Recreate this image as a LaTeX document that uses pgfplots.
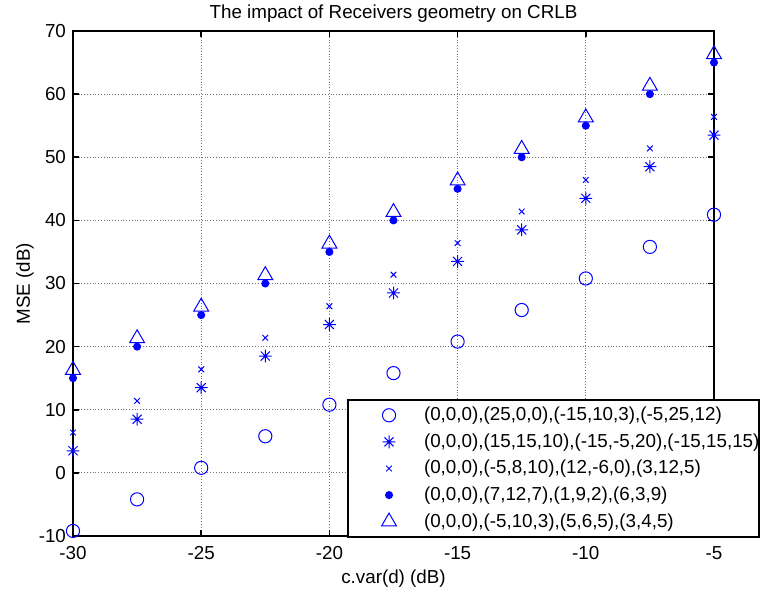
\documentclass[border=0pt]{standalone}
\usepackage{fontspec}
\setmainfont{Liberation Sans}
\usepackage{pgfplots}
\pgfplotsset{compat=1.18}
\pgfdeclareplotmark{mstar}{%
  \pgfpathmoveto{\pgfqpoint{-\pgfplotmarksize}{0pt}}%
  \pgfpathlineto{\pgfqpoint{\pgfplotmarksize}{0pt}}%
  \pgfpathmoveto{\pgfqpoint{0pt}{-\pgfplotmarksize}}%
  \pgfpathlineto{\pgfqpoint{0pt}{\pgfplotmarksize}}%
  \pgfpathmoveto{\pgfqpoint{-.707\pgfplotmarksize}{-.707\pgfplotmarksize}}%
  \pgfpathlineto{\pgfqpoint{.707\pgfplotmarksize}{.707\pgfplotmarksize}}%
  \pgfpathmoveto{\pgfqpoint{-.707\pgfplotmarksize}{.707\pgfplotmarksize}}%
  \pgfpathlineto{\pgfqpoint{.707\pgfplotmarksize}{-.707\pgfplotmarksize}}%
  \pgfusepathqstroke}
\definecolor{mblue}{rgb}{0,0,1}
\pgfplotsset{
  mymarks/.style={only marks, color=mblue, line width=0.5pt, mark options={solid},
    legend image code/.code={\path[draw=none,fill=none] (-20.5pt,-6.65pt) rectangle (17.5pt,6.65pt);
      \draw[##1] plot coordinates {(0pt,0pt)};}},
}
\begin{document}
\fontsize{9.4}{11}\selectfont
\begin{tikzpicture}
\begin{axis}[
  scale only axis, width=320.5pt, height=252.5pt,
  xmin=-30, xmax=-5, ymin=-10, ymax=70,
  xtick={-30,-25,...,-5}, ytick={-10,0,...,70},
  axis line style={line width=1pt},
  tick align=inside, major tick length=3pt,
  tick style={line width=0.8pt, black},
  grid=major, grid style={densely dotted, black!55, line width=0.5pt},
  /pgf/number format/assume math mode=true,
  tick label style={font=\fontsize{9.4}{11}\selectfont},
  xticklabel style={yshift=-2pt},
  yticklabel style={xshift=-0.2pt},
  title={The impact of Receivers geometry on CRLB},
  title style={at={(axis description cs:0.5,1.0253)}, anchor=base, yshift=-6pt, inner sep=0pt},
  xlabel={c.var(d) (dB)},
  xlabel style={at={(axis description cs:0.5,-0.0931)}, anchor=base, inner sep=0pt},
  ylabel={MSE (dB)},
  ylabel style={at={(axis description cs:-0.0671,0.5)}, anchor=base, inner sep=0pt},
  legend style={at={(axis description cs:0.4275,0.2713)}, anchor=north west,
    inner xsep=0pt, inner ysep=1pt, draw=black, line width=1pt, fill=white,
    nodes={draw=none, inner sep=0pt, font=\fontsize{9.4}{11}\selectfont}, cells={anchor=west}, row sep=0pt},
]
\addplot[mymarks, mark=o, mark size=3.3pt] coordinates {
(-30,-9.2) (-27.5,-4.2) (-25,0.8) (-22.5,5.8) (-20,10.8) (-17.5,15.8)
(-15,20.8) (-12.5,25.8) (-10,30.8) (-7.5,35.8) (-5,40.9)};
\addlegendentry{(0,0,0),(25,0,0),(-15,10,3),(-5,25,12)}
\addplot[mymarks, mark=mstar, mark size=3.2pt] coordinates {
(-30,3.5) (-27.5,8.5) (-25,13.5) (-22.5,18.5) (-20,23.5) (-17.5,28.5)
(-15,33.5) (-12.5,38.5) (-10,43.5) (-7.5,48.5) (-5,53.5)};
\addlegendentry{(0,0,0),(15,15,10),(-15,-5,20),(-15,15,15)}
\addplot[mymarks, mark=x, mark size=2pt] coordinates {
(-30,6.4) (-27.5,11.4) (-25,16.4) (-22.5,21.4) (-20,26.4) (-17.5,31.4)
(-15,36.4) (-12.5,41.4) (-10,46.4) (-7.5,51.4) (-5,56.4)};
\addlegendentry{(0,0,0),(-5,8,10),(12,-6,0),(3,12,5)}
\addplot[mymarks, mark=*, mark size=1.75pt] coordinates {
(-30,15) (-27.5,20) (-25,25) (-22.5,30) (-20,35) (-17.5,40)
(-15,45) (-12.5,50) (-10,55) (-7.5,60) (-5,65)};
\addlegendentry{(0,0,0),(7,12,7),(1,9,2),(6,3,9)}
\addplot[mymarks, mark=triangle, mark size=4.3pt] coordinates {
(-30,16.3) (-27.5,21.3) (-25,26.3) (-22.5,31.3) (-20,36.3) (-17.5,41.3)
(-15,46.3) (-12.5,51.3) (-10,56.3) (-7.5,61.3) (-5,66.3)};
\addlegendentry{(0,0,0),(-5,10,3),(5,6,5),(3,4,5)}
\end{axis}
\pgfresetboundingbox
\path[use as bounding box] (-36.5pt,-28pt) rectangle (344pt,268pt);
\end{tikzpicture}
\end{document}
